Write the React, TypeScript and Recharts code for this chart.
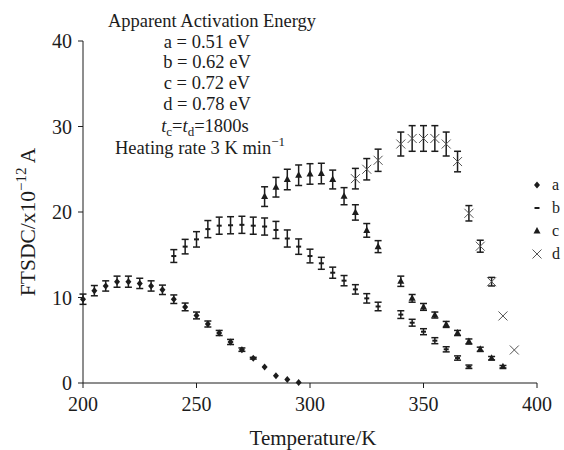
import { ErrorBar, Scatter, ScatterChart, XAxis, YAxis } from "recharts";

const FONT = "'Liberation Serif', 'DejaVu Serif', serif";
const INK = "#1c1c1c";

// temperatures (K) per series
const tempsA = [200, 205, 210, 215, 220, 225, 230, 235, 240, 245, 250, 255, 260, 265, 270, 275, 280, 285, 290, 295];
const tempsB = [240, 245, 250, 255, 260, 265, 270, 275, 280, 285, 290, 295, 300, 305, 310, 315, 320, 325, 330, 340, 345, 350, 355, 360, 365, 370];
const tempsC = [280, 285, 290, 295, 300, 305, 310, 315, 320, 325, 330, 340, 345, 350, 355, 360, 365, 370, 375, 380, 385];
const tempsD = [320, 325, 330, 340, 345, 350, 355, 360, 365, 370, 375, 380, 385, 390];

// current, x10^-12 A
const currA = [9.8, 10.8, 11.35, 11.85, 11.85, 11.65, 11.35, 10.9, 9.8, 8.9, 7.9, 6.9, 5.85, 4.8, 3.9, 2.9, 1.87, 0.85, 0.4, 0.05];
const currB = [14.85, 15.95, 16.8, 18.0, 18.4, 18.45, 18.5, 18.4, 18.3, 17.9, 16.9, 15.95, 14.85, 14.0, 12.9, 11.97, 10.95, 9.9, 8.95, 8.0, 7.05, 6.0, 4.95, 3.94, 2.92, 1.9];
const currC = [21.8, 22.9, 23.8, 24.3, 24.45, 24.5, 23.8, 21.85, 19.95, 17.85, 15.95, 11.9, 9.9, 8.9, 7.95, 6.85, 5.85, 4.85, 3.94, 2.9, 1.9];
const currD = [23.9, 25.0, 26.05, 27.95, 28.6, 28.6, 28.6, 27.95, 25.9, 19.85, 16.0, 11.85, 7.84, 3.86];

// error bar half-heights
const errA = [0.6, 0.6, 0.6, 0.65, 0.65, 0.6, 0.6, 0.55, 0.5, 0.45, 0.4, 0.35, 0.3, 0.3, 0.2, 0.1, 0, 0, 0, 0];
const errB = [0.75, 0.85, 0.9, 1.0, 1.0, 1.0, 1.0, 1.0, 1.0, 1.0, 1.0, 0.9, 0.8, 0.7, 0.65, 0.6, 0.55, 0.55, 0.5, 0.45, 0.4, 0.35, 0.35, 0.3, 0.25, 0.2];
const errC = [1.15, 1.15, 1.2, 1.2, 1.2, 1.2, 1.1, 1.0, 0.9, 0.8, 0.7, 0.6, 0.45, 0.4, 0.35, 0.35, 0.3, 0.3, 0.25, 0.2, 0.15];
const errD = [1.2, 1.25, 1.3, 1.4, 1.5, 1.5, 1.5, 1.4, 1.2, 0.9, 0.7, 0.5, 0, 0];

const xTicks = [200, 250, 300, 350, 400];
const yTicks = [0, 10, 20, 30, 40];

const rows = (t: number[], v: number[], e: number[]) =>
  t.map((x, i) => ({ x, y: v[i], err: e[i] }));

const Diamond = ({ cx, cy }: any) => (
  <path d={`M${cx},${cy - 3.5}L${cx + 3},${cy}L${cx},${cy + 3.5}L${cx - 3},${cy}Z`} fill={INK} />
);
const Dash = ({ cx, cy }: any) => <rect x={cx - 2.5} y={cy - 1} width={5} height={2} fill={INK} />;
const Tri = ({ cx, cy }: any) => (
  <path d={`M${cx},${cy - 4}L${cx + 3.5},${cy + 2.5}L${cx - 3.5},${cy + 2.5}Z`} fill={INK} />
);
const Cross = ({ cx, cy }: any) => (
  <path
    d={`M${cx - 4.5},${cy - 4.5}L${cx + 4.5},${cy + 4.5}M${cx - 4.5},${cy + 4.5}L${cx + 4.5},${cy - 4.5}`}
    stroke="#555"
    strokeWidth={1}
    fill="none"
  />
);

const tick = { fontFamily: FONT, fontSize: 20, fill: INK };

function Bars() {
  return <ErrorBar dataKey="err" direction="y" width={3.5} stroke={INK} strokeWidth={1.5} />;
}

export default function App() {
  const legend = [
    { label: "a", Shape: Diamond },
    { label: "b", Shape: Dash },
    { label: "c", Shape: Tri },
    { label: "d", Shape: Cross },
  ];
  return (
    <div style={{ position: "relative", width: 564, height: 450, background: "#fff" }}>
      <style>{"body{margin:0}"}</style>
      <ScatterChart width={564} height={450} margin={{ top: 41, right: 27, bottom: 37, left: 23 }}>
        <XAxis
          type="number"
          dataKey="x"
          domain={[200, 400]}
          ticks={xTicks}
          height={30}
          tick={tick}
          tickSize={5}
          tickMargin={9}
          stroke={INK}
        />
        <YAxis
          type="number"
          dataKey="y"
          domain={[0, 40]}
          ticks={yTicks}
          width={60}
          tick={tick}
          tickSize={5}
          tickMargin={6}
          stroke={INK}
        />
        <Scatter name="a" data={rows(tempsA, currA, errA)} shape={<Diamond />} isAnimationActive={false}>
          {Bars()}
        </Scatter>
        <Scatter name="b" data={rows(tempsB, currB, errB)} shape={<Dash />} isAnimationActive={false}>
          {Bars()}
        </Scatter>
        <Scatter name="c" data={rows(tempsC, currC, errC)} shape={<Tri />} isAnimationActive={false}>
          {Bars()}
        </Scatter>
        <Scatter name="d" data={rows(tempsD, currD, errD)} shape={<Cross />} isAnimationActive={false}>
          {Bars()}
        </Scatter>
      </ScatterChart>
      <svg
        width={564}
        height={450}
        style={{ position: "absolute", left: 0, top: 0, pointerEvents: "none" }}
        fontFamily={FONT}
        fill={INK}
      >
        <g fontSize={18.5} textAnchor="middle">
          <text x={212} y={27}>Apparent Activation Energy</text>
          <text x={207} y={48}>a = 0.51 eV</text>
          <text x={207} y={68}>b = 0.62 eV</text>
          <text x={207} y={89}>c = 0.72 eV</text>
          <text x={207} y={110}>d = 0.78 eV</text>
          <text x={205} y={132}>
            <tspan fontStyle="italic">t</tspan>
            <tspan fontSize={13} dy={4}>c</tspan>
            <tspan dy={-4}>=</tspan>
            <tspan fontStyle="italic">t</tspan>
            <tspan fontSize={13} dy={4}>d</tspan>
            <tspan dy={-4}>=1800s</tspan>
          </text>
          <text x={200} y={154}>
            Heating rate 3 K min
            <tspan fontSize={13} dy={-8}>−1</tspan>
          </text>
        </g>
        <text x={313} y={445} fontSize={21} textAnchor="middle">
          Temperature/K
        </text>
        <text x={35} y={222} fontSize={21.5} textAnchor="middle" transform="rotate(-90 35 222)">
          FTSDC/x10
          <tspan fontSize={15} dy={-9}>−12</tspan>
          <tspan dy={9}> A</tspan>
        </text>
        {legend.map(({ label, Shape }, i) => (
          <g key={label}>
            <Shape cx={537} cy={185 + i * 23} />
            <text x={552} y={185 + i * 23 + 5} fontSize={16}>
              {label}
            </text>
          </g>
        ))}
      </svg>
    </div>
  );
}
